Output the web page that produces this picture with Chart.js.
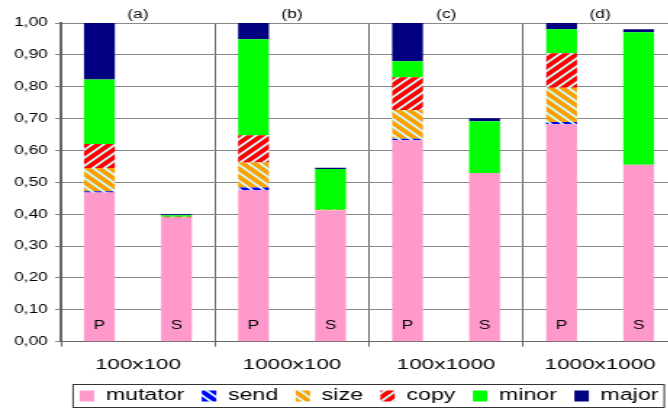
<!DOCTYPE html>
<html lang="en">
<head>
    <meta charset="UTF-8">
    <title>GC time breakdown</title>
    <script src="https://cdn.jsdelivr.net/npm/chart.js"></script>
    <style>
        body {
            margin: 0;
            background-color: #ffffff;
            overflow: hidden;
        }
        #frame {
            width: 668px;
            height: 409px;
            overflow: hidden;
            position: relative;
        }
        /* the original picture is stretched sideways, so is this one */
        #stretch {
            width: 467px;
            height: 414px;
            transform: scaleX(1.45);
            transform-origin: 0 0;
        }
    </style>
</head>
<body>
    <div id="frame">
        <div id="stretch">
            <canvas id="gcChart" width="467" height="414"></canvas>
        </div>
    </div>

    <script>
        const categories = ['100x100', '1000x100', '100x1000', '1000x1000'];
        const panelLabels = ['(a)', '(b)', '(c)', '(d)'];
        const stacks = ['P', 'S'];
        const seriesNames = ['mutator', 'send', 'size', 'copy', 'minor', 'major'];
        const yTickLabels = ['0,00', '0,10', '0,20', '0,30', '0,40', '0,50', '0,60', '0,70', '0,80', '0,90', '1,00'];

        // P = first bar of each group, S = second bar
        const mutatorP = [0.468, 0.476, 0.632, 0.682];
        const mutatorS = [0.389, 0.412, 0.529, 0.555];
        const sendP = [0.004, 0.008, 0.005, 0.007];
        const sendS = [0, 0, 0, 0];
        const sizeP = [0.073, 0.078, 0.090, 0.108];
        const sizeS = [0.001, 0.001, 0, 0];
        const copyP = [0.075, 0.086, 0.103, 0.108];
        const copyS = [0.002, 0.001, 0, 0];
        const minorP = [0.203, 0.301, 0.050, 0.075];
        const minorS = [0.005, 0.128, 0.163, 0.416];
        const majorP = [0.177, 0.051, 0.120, 0.020];
        const majorS = [0.003, 0.004, 0.009, 0.009];

        const valuesP = [mutatorP, sendP, sizeP, copyP, minorP, majorP];
        const valuesS = [mutatorS, sendS, sizeS, copyS, minorS, majorS];

        const FONT = "'Liberation Sans', Arial, sans-serif";
        const stripeBg = '#ccffff';

        function stripes(fg, dir) {
            const c = document.createElement('canvas');
            c.width = 8;
            c.height = 8;
            const g = c.getContext('2d');
            g.fillStyle = fg;
            g.fillRect(0, 0, 8, 8);
            g.strokeStyle = stripeBg;
            g.lineWidth = 1.8;
            g.beginPath();
            for (let k = -8; k <= 8; k += 8) {
                if (dir === 'down') {
                    g.moveTo(k - 1, -1);
                    g.lineTo(k + 9, 9);
                } else {
                    g.moveTo(k - 1, 9);
                    g.lineTo(k + 9, -1);
                }
            }
            g.stroke();
            return g.createPattern(c, 'repeat');
        }

        const ctx = document.getElementById('gcChart').getContext('2d');

        const fills = [
            '#ff99cc',
            stripes('#0000ff', 'down'),
            stripes('#ffa000', 'down'),
            stripes('#ff0000', 'up'),
            '#00ff00',
            '#000080'
        ];

        const datasets = [];
        stacks.forEach(function(stack, si) {
            const src = si === 0 ? valuesP : valuesS;
            seriesNames.forEach(function(name, i) {
                datasets.push({
                    label: name,
                    data: src[i],
                    stack: stack,
                    backgroundColor: fills[i],
                    borderWidth: 0,
                    categoryPercentage: 1.0,
                    barPercentage: 0.4
                });
            });
        });

        const annotate = {
            id: 'annotate',
            afterDatasetsDraw(chart) {
                const c = chart.ctx;
                const x = chart.scales.x;
                const y = chart.scales.y;
                c.save();
                c.fillStyle = '#000';
                c.textAlign = 'center';
                c.textBaseline = 'middle';
                c.font = '12px ' + FONT;
                panelLabels.forEach(function(t, i) {
                    c.fillText(t, x.getPixelForValue(i), chart.chartArea.top - 8.5);
                });
                stacks.forEach(function(s, si) {
                    const meta = chart.getDatasetMeta(si * seriesNames.length);
                    meta.data.forEach(function(bar) {
                        c.fillText(s, bar.x, y.getPixelForValue(0.05));
                    });
                });
                c.restore();
            },
            afterDraw(chart) {
                const hb = chart.legend.legendHitBoxes;
                if (!hb || !hb.length) return;
                const last = hb[hb.length - 1];
                const x0 = hb[0].left - 4.5;
                const x1 = last.left + last.width + 4;
                const cy = hb[0].top + hb[0].height / 2;
                const c = chart.ctx;
                c.save();
                c.strokeStyle = '#333';
                c.lineWidth = 1;
                c.strokeRect(x0, cy - 11.5, x1 - x0, 23);
                c.restore();
            }
        };

        new Chart(ctx, {
            type: 'bar',
            data: {
                labels: categories,
                datasets: datasets
            },
            plugins: [annotate],
            options: {
                responsive: false,
                animation: false,
                layout: {
                    padding: { top: 23, left: 0, right: 0, bottom: 0 }
                },
                plugins: {
                    tooltip: { enabled: false },
                    legend: {
                        position: 'bottom',
                        fullSize: false,
                        labels: {
                            filter: item => item.datasetIndex < seriesNames.length,
                            boxWidth: 10,
                            boxHeight: 11,
                            padding: 12,
                            color: '#000',
                            font: { family: FONT, size: 16 }
                        }
                    }
                },
                scales: {
                    x: {
                        stacked: true,
                        afterFit: s => { s.height = 34.3; },
                        grid: {
                            offset: true,
                            color: '#666',
                            lineWidth: 1,
                            tickLength: 5
                        },
                        border: { color: '#666', width: 1 },
                        ticks: {
                            color: '#000',
                            padding: 9,
                            font: { family: FONT, size: 15.5 }
                        }
                    },
                    y: {
                        stacked: true,
                        min: 0,
                        max: 1,
                        afterFit: s => { s.width = 42; },
                        grid: {
                            color: '#888',
                            lineWidth: 1,
                            tickLength: 4
                        },
                        border: { color: '#666', width: 2 },
                        ticks: {
                            stepSize: 0.1,
                            autoSkip: false,
                            padding: 5,
                            color: '#000',
                            font: { family: FONT, size: 12 },
                            callback: (v, i) => yTickLabels[i]
                        }
                    }
                }
            }
        });
    </script>
</body>
</html>
